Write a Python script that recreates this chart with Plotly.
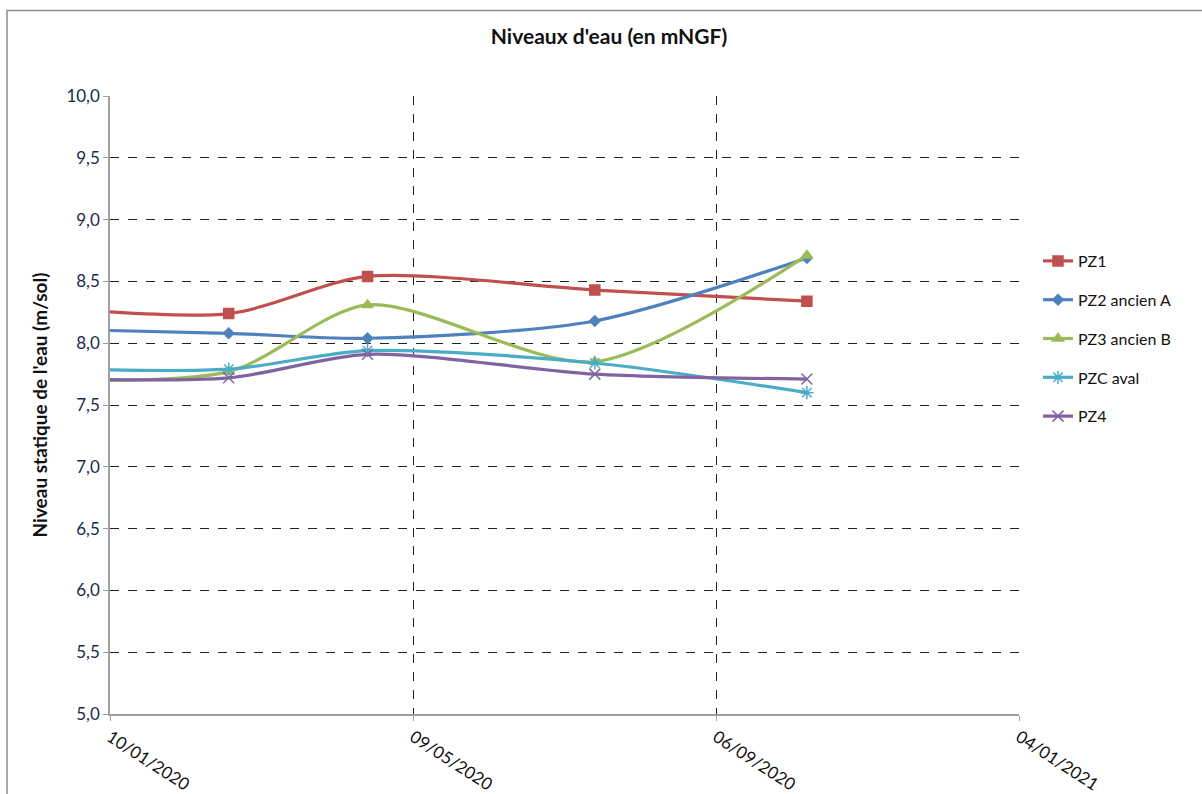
import plotly.graph_objects as go

# ---- data ----
dates = ["2019-12-05", "2020-02-26", "2020-04-21", "2020-07-20", "2020-10-12"]
pz1 = [8.31, 8.24, 8.54, 8.43, 8.34]
pz2 = [8.12, 8.08, 8.04, 8.18, 8.69]
pz3 = [7.71, 7.77, 8.31, 7.85, 8.71]
pzc = [7.80, 7.79, 7.94, 7.84, 7.60]
pz4 = [7.72, 7.72, 7.91, 7.75, 7.71]

series_names = ["PZ1", "PZ2 ancien A", "PZ3 ancien B", "PZC aval", "PZ4"]
series_values = [pz1, pz2, pz3, pzc, pz4]
colors = ["#C0504D", "#4F81BD", "#9BBB59", "#4BACC6", "#8064A2"]
symbols = ["square", "diamond", "triangle-up", "asterisk-open", "x-thin-open"]
msizes = [10, 8, 10, 11, 11]

x_tickvals = ["2020-01-10", "2020-05-09", "2020-09-06", "2021-01-04"]
x_ticktext = ["10/01/2020", "09/05/2020", "06/09/2020", "04/01/2021"]
y_tickvals = [5.0, 5.5, 6.0, 6.5, 7.0, 7.5, 8.0, 8.5, 9.0, 9.5, 10.0]

FONT = "Lato, 'Open Sans', sans-serif"

fig = go.Figure()
for i, (name, vals) in enumerate(zip(series_names, series_values)):
    fig.add_trace(go.Scatter(
        x=dates, y=vals, name=name, mode="lines+markers",
        line=dict(color=colors[i], width=3.2, shape="spline", smoothing=0.8),
        marker=dict(symbol=symbols[i], size=msizes[i], color=colors[i],
                    line=dict(color=colors[i], width=1.5)),
        legendgroup=name, cliponaxis=True,
    ))

L, R, T, B = 110, 183, 96, 80
W, H = 1202, 794
pw, ph = W - L - R, H - T - B

def px(xp):
    return (xp - L) / pw

def py(yp):
    return (H - B - yp) / ph

fig.update_layout(
    width=W, height=H,
    margin=dict(l=L, r=R, t=T, b=B, autoexpand=False),
    paper_bgcolor="white", plot_bgcolor="white",
    separators=", ",
    font=dict(family=FONT, size=16, color="#111"),
    title=dict(text="<b>Niveaux d'eau (en mNGF)</b>", x=609 / W, xanchor="center",
               y=1 - 37 / H, yanchor="middle", font=dict(size=21, color="#111")),
    showlegend=True,
    legend=dict(x=px(1038), xanchor="left", y=py(244), yanchor="top",
                tracegroupgap=15, font=dict(size=16, color="#111"),
                bgcolor="rgba(0,0,0,0)", itemwidth=30),
    xaxis=dict(
        type="date", range=["2020-01-10", "2021-01-04"], automargin=False,
        tickvals=x_tickvals, ticktext=x_ticktext, tickangle=33,
        showgrid=True, gridcolor="#222", griddash="dash", gridwidth=1,
        showline=True, linecolor="#A0A0A0", linewidth=1.5,
        ticks="outside", ticklen=5, tickcolor="#A0A0A0",
        tickfont=dict(size=17, color="#111"), zeroline=False,
    ),
    yaxis=dict(
        range=[5.0, 10.0], tickvals=y_tickvals, tickformat=".1f", automargin=False,
        showgrid=True, gridcolor="#222", griddash="dash", gridwidth=1,
        showline=True, linecolor="#A0A0A0", linewidth=1.5,
        ticks="outside", ticklen=5, tickcolor="#A0A0A0",
        tickfont=dict(size=17, color="#1a2a4a"), zeroline=False,
        title=dict(text="<b>Niveau statique de l'eau (m/sol)</b>", standoff=14,
                   font=dict(size=19, color="#111")),
    ),
    shapes=[dict(type="rect", xref="paper", yref="paper",
                 x0=px(7), x1=px(1215), y0=py(810), y1=py(10.5),
                 line=dict(color="#8C8C8C", width=1.5), fillcolor="rgba(0,0,0,0)",
                 layer="below")],
)

fig.write_html("out.html", config={"displayModeBar": False},
               post_script="document.body.style.margin='0';")
